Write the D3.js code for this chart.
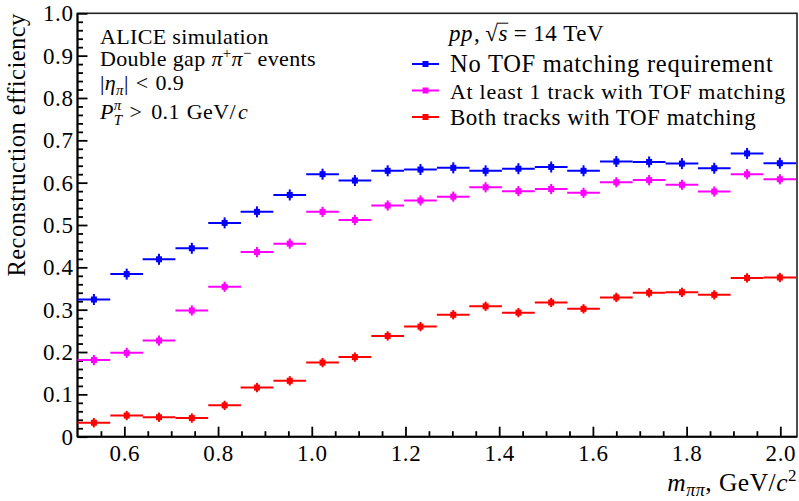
<!DOCTYPE html>
<html>
<head>
<meta charset="utf-8">
<script src="https://cdn.jsdelivr.net/npm/d3@7"></script>
<style>
  body { margin: 0; background: #fff; }
  svg { display: block; }
  text { font-family: "Liberation Serif", "Times New Roman", serif; fill: #000; }
</style>
</head>
<body>
<svg id="chart" width="799" height="501"></svg>
<script>
// bin centres of m_pipi (GeV/c^2), bins are ~0.07 wide
var binCenters = [0.535, 0.605, 0.674, 0.744, 0.814, 0.883, 0.953, 1.023, 1.092, 1.162, 1.232,
                  1.302, 1.371, 1.441, 1.511, 1.580, 1.650, 1.720, 1.790, 1.859, 1.929, 1.999];
var binHalfWidth = 0.0349;

var effNoTOF   = [0.324, 0.384, 0.419, 0.445, 0.505, 0.531, 0.571, 0.620, 0.605, 0.628, 0.631,
                  0.635, 0.628, 0.633, 0.637, 0.628, 0.650, 0.649, 0.645, 0.634, 0.669, 0.646];
var effOneTOF  = [0.181, 0.198, 0.227, 0.298, 0.354, 0.436, 0.456, 0.531, 0.512, 0.546, 0.558,
                  0.567, 0.589, 0.580, 0.585, 0.576, 0.601, 0.606, 0.595, 0.579, 0.620, 0.608];
var effBothTOF = [0.033, 0.050, 0.046, 0.044, 0.074, 0.116, 0.132, 0.175, 0.188, 0.238, 0.260,
                  0.288, 0.308, 0.293, 0.317, 0.302, 0.329, 0.340, 0.341, 0.335, 0.375, 0.376];

var errNoTOF = 0.013, errOneTOF = 0.012, errBothTOF = 0.011;

var seriesNames = ["No TOF matching requirement", "At least 1 track with TOF matching", "Both tracks with TOF matching"];
var seriesColors = ["#0000ff", "#ff00ff", "#ff0000"];

var xMajorTicks = [0.6, 0.8, 1.0, 1.2, 1.4, 1.6, 1.8, 2.0];
var yMajorTicks = [0, 0.1, 0.2, 0.3, 0.4, 0.5, 0.6, 0.7, 0.8, 0.9, 1.0];

var series = [
    { name: seriesNames[0], values: effNoTOF,   err: errNoTOF,   color: seriesColors[0] },
    { name: seriesNames[1], values: effOneTOF,  err: errOneTOF,  color: seriesColors[1] },
    { name: seriesNames[2], values: effBothTOF, err: errBothTOF, color: seriesColors[2] }
];

var svg = d3.select("#chart");
var padL = 77.5, padR = 797, padT = 13.3, padB = 436.7;

var x = d3.scaleLinear().domain([0.5, 0.5 + 44 * binHalfWidth]).range([padL, padR]);
var y = d3.scaleLinear().domain([0, 1]).range([padB, padT]);

// minor ticks (no labels)
var xMinor = d3.range(0.55, 2.03, 0.05).filter(function (d) { return Math.abs(d * 5 - Math.round(d * 5)) > 1e-6; });
var yMinor = d3.range(0.02, 1.0, 0.02).filter(function (d) { return Math.abs(d * 10 - Math.round(d * 10)) > 1e-6; });

// frame
svg.append("rect")
    .attr("x", padL).attr("y", padT)
    .attr("width", padR - padL).attr("height", padB - padT)
    .attr("fill", "none").attr("stroke", "#222").attr("stroke-width", 1.6);

function styleAxis(g) {
    g.select(".domain").remove();
    g.selectAll(".tick line").attr("stroke", "#000").attr("stroke-width", 1.8);
    g.selectAll(".tick text").attr("font-size", 23).attr("fill", "#000")
        .style("font-family", "'Liberation Serif', serif").style("letter-spacing", "0.6px");
}

var yFmt = function (d) { return d === 0 ? "0" : d3.format(".1f")(d); };

svg.append("g").attr("transform", "translate(0," + padB + ")")
    .call(d3.axisBottom(x).tickValues(xMinor).tickSizeInner(-5.5).tickSizeOuter(0).tickFormat(""))
    .call(styleAxis);
svg.append("g").attr("transform", "translate(0," + padB + ")")
    .call(d3.axisBottom(x).tickValues(xMajorTicks).tickSizeInner(-10).tickSizeOuter(0)
        .tickPadding(8).tickFormat(d3.format(".1f")))
    .call(styleAxis);
svg.append("g").attr("transform", "translate(" + padL + ",0)")
    .call(d3.axisLeft(y).tickValues(yMinor).tickSizeInner(-5.5).tickSizeOuter(0).tickFormat(""))
    .call(styleAxis);
svg.append("g").attr("transform", "translate(" + padL + ",0)")
    .call(d3.axisLeft(y).tickValues(yMajorTicks).tickSizeInner(-10).tickSizeOuter(0)
        .tickPadding(4).tickFormat(yFmt))
    .call(styleAxis);

// axis lines
svg.append("line").attr("x1", padL).attr("x2", padR).attr("y1", padB).attr("y2", padB)
    .attr("stroke", "#000").attr("stroke-width", 2);
svg.append("line").attr("x1", padL).attr("x2", padL).attr("y1", padT).attr("y2", padB)
    .attr("stroke", "#000").attr("stroke-width", 2);

// data points
series.forEach(function (s) {
    var g = svg.append("g");
    var pts = g.selectAll("g.pt").data(s.values).enter().append("g").attr("class", "pt");
    pts.append("line")
        .attr("x1", function (d, i) { return x(binCenters[i] - binHalfWidth); })
        .attr("x2", function (d, i) { return x(binCenters[i] + binHalfWidth); })
        .attr("y1", function (d) { return y(d); })
        .attr("y2", function (d) { return y(d); })
        .attr("stroke", s.color).attr("stroke-width", 2);
    pts.append("line")
        .attr("x1", function (d, i) { return x(binCenters[i]); })
        .attr("x2", function (d, i) { return x(binCenters[i]); })
        .attr("y1", function (d) { return y(d - s.err); })
        .attr("y2", function (d) { return y(d + s.err); })
        .attr("stroke", s.color).attr("stroke-width", 2);
    pts.append("rect")
        .attr("x", function (d, i) { return x(binCenters[i]) - 3; })
        .attr("y", function (d) { return y(d) - 3; })
        .attr("width", 6).attr("height", 6)
        .attr("fill", s.color);
});

// rich text helper: pieces {t, it, dy, dx, size}
function richText(px, py, size, pieces, anchor, spacing) {
    var t = svg.append("text").attr("x", px).attr("y", py).attr("font-size", size)
        .attr("text-anchor", anchor || "start");
    if (spacing) t.style("letter-spacing", spacing + "px");
    var nodes = [];
    pieces.forEach(function (p) {
        var ts = t.append("tspan").text(p.t);
        if (p.it) ts.attr("font-style", "italic");
        if (p.dy) ts.attr("dy", p.dy);
        if (p.dx) ts.attr("dx", p.dx);
        if (p.size) ts.attr("font-size", p.size);
        nodes.push(ts);
    });
    return { text: t, nodes: nodes };
}

// top-left annotation
var tl = 100, fs = 22, ls = 0.35;
richText(tl, 44, fs, [{ t: "ALICE simulation" }], "start", ls);
richText(tl, 66, fs, [
    { t: "Double gap " }, { t: "\u03c0", it: true },
    { t: "+", dy: -8, size: 15 }, { t: "\u03c0", it: true, dy: 8 },
    { t: "\u2212", dy: -8, size: 15 }, { t: " events", dy: 8 }], "start", ls);
richText(tl, 90, fs, [
    { t: "|" }, { t: "\u03b7", it: true }, { t: "\u03c0", it: true, dy: 5, size: 15 },
    { t: "|", dy: -5 }, { t: "<", dx: 7 }, { t: "0.9", dx: 7 }], "start", ls);
var pt = richText(tl, 119, fs, [
    { t: "P", it: true }, { t: "\u03c0", it: true, dy: -9, size: 15 },
    { t: "T", it: true, dy: 15, size: 15 }, { t: ">", dy: -6, dx: 7 }, { t: "0.1", dx: 9 },
    { t: "GeV/", dx: 7 }, { t: "c", it: true, dx: 2 }], "start", ls);
var piW = pt.nodes[1].node().getComputedTextLength();
pt.nodes[2].attr("dx", -piW);

// collision system
var csY = 41;
var cs = richText(449, csY, 23, [
    { t: "pp", it: true }, { t: ",", dx: 1 }, { t: "\u221a", dx: 5 }, { t: "s", it: true },
    { t: "=", dx: 6 }, { t: "14", dx: 6 }, { t: "TeV", dx: 6 }], "start", 0.5);
var sNode = cs.nodes[3].node();
var sx0 = sNode.getStartPositionOfChar(0).x, sw = sNode.getComputedTextLength();
svg.append("line").attr("x1", sx0 - 1).attr("x2", sx0 + sw + 0.5)
    .attr("y1", csY - 17.8).attr("y2", csY - 17.8)
    .attr("stroke", "#000").attr("stroke-width", 1);

// legend
var legendY = [64, 90.5, 117];
var legendSize = [24.5, 22, 23];
var legendSpacing = [0.75, 0.7, 0.5];
series.forEach(function (s, i) {
    var ly = legendY[i];
    svg.append("line").attr("x1", 412).attr("x2", 439).attr("y1", ly).attr("y2", ly)
        .attr("stroke", s.color).attr("stroke-width", 2);
    svg.append("rect").attr("x", 425.5 - 3).attr("y", ly - 3).attr("width", 6).attr("height", 6)
        .attr("fill", s.color);
    svg.append("text").attr("x", 450).attr("y", ly + 8).attr("font-size", legendSize[i])
        .style("letter-spacing", legendSpacing[i] + "px")
        .text(s.name);
});

// axis titles
svg.append("text")
    .attr("transform", "translate(25," + padT + ") rotate(-90)")
    .attr("text-anchor", "end").attr("font-size", 24.5)
    .style("letter-spacing", "0.45px")
    .text("Reconstruction efficiency");

richText(797, 491, 25.5, [
    { t: "m", it: true }, { t: "\u03c0\u03c0", it: true, dy: 5, size: 18 },
    { t: ", GeV/", dy: -5 }, { t: "c", it: true }, { t: "2", dy: -10, size: 17 }], "end", 0.5);
</script>
</body>
</html>
